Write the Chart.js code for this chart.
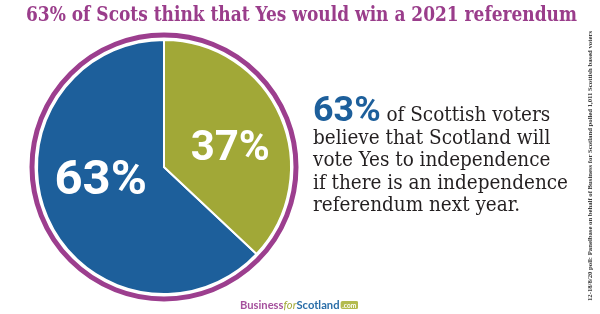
<!DOCTYPE html>
<html lang="en">
  <head>
    <meta charset="UTF-8" />
    <title>63% of Scots think that Yes would win a 2021 referendum</title>
    <script src="https://cdn.jsdelivr.net/npm/chart.js"></script>
    <style>
      body {
        margin: 0;
        width: 600px;
        height: 314px;
        background: #fff;
        position: relative;
        overflow: hidden;
      }
      #pie {
        position: absolute;
        left: 0;
        top: 0;
      }
      .fit {
        position: absolute;
        white-space: nowrap;
        transform-origin: left top;
      }
      #title {
        left: 26px;
        top: 1px;
        font-family: "DejaVu Serif Condensed", "DejaVu Serif", serif;
        font-stretch: condensed;
        font-weight: bold;
        font-size: 21px;
        line-height: 26px;
        color: #9a3d8b;
      }
      #blurb {
        left: 313px;
        top: 103px;
        font-family: "DejaVu Serif Condensed", "DejaVu Serif", serif;
        font-stretch: condensed;
        font-size: 20px;
        line-height: 22.5px;
        color: #231f20;
      }
      #blurb .big {
        font-family: Roboto, sans-serif;
        font-stretch: normal;
        font-weight: bold;
        font-size: 35px;
        line-height: 0;
        color: #1d5f9b;
      }
      #source {
        left: 587px;
        top: 301px;
        font-family: "Liberation Serif", serif;
        font-weight: bold;
        font-size: 7px;
        line-height: 7px;
        color: #333;
      }
      #logo {
        left: 240px;
        top: 299px;
        font-family: Lato, sans-serif;
        font-weight: bold;
        font-size: 12px;
        line-height: 12px;
      }
      #logo .b { color: #a5519d; }
      #logo .f { color: #a3aa3a; font-style: italic; font-weight: normal; }
      #logo .s { color: #2a6ea8; }
      #logo .c {
        display: inline-block;
        margin-left: 1px;
        padding: 0 2px;
        background: #b3bb4f;
        color: #fff;
        font-size: 7px;
        line-height: 8px;
        border-radius: 2px;
        vertical-align: 1px;
      }
    </style>
  </head>

  <body>
    <canvas id="pie" width="600" height="314"></canvas>

    <div id="title" class="fit" data-w="551">
      63% of Scots think that Yes would win a 2021 referendum
    </div>

    <div id="blurb" class="fit" data-w="255">
      <div><span class="big">63%</span> of Scottish voters</div>
      <div>believe that Scotland will</div>
      <div>vote Yes to independence</div>
      <div>if there is an independence</div>
      <div>referendum next year.</div>
    </div>

    <div id="source" class="fit" data-w="270" data-rot="rotate(-90deg)">
      12-18/8/20 poll: Panelbase on behalf of Business for Scotland polled
      1,011 Scottish based voters
    </div>

    <div id="logo" class="fit" data-w="118">
      <span class="b">Business</span><span class="f">for</span
      ><span class="s">Scotland</span><span class="c">.com</span>
    </div>

    <script>
      // poll answers, Panelbase 12-18 Aug 2020
      const answers = ["Yes would win", "Yes would not win"];
      const shares = [63, 37];
      const sliceColors = ["#1d5f9b", "#a1a837"];

      const total = shares.reduce((a, b) => a + b, 0);
      // blue slice ends at 12 o'clock, so start after the green share
      const startAngle = (360 * shares[1]) / total;

      // purple border round the pie
      const ringPlugin = {
        id: "ring",
        afterDatasetsDraw(chart, args, opts) {
          const arc = chart.getDatasetMeta(0).data[0];
          const ctx = chart.ctx;
          ctx.save();
          ctx.beginPath();
          ctx.arc(
            arc.x,
            arc.y,
            arc.outerRadius + opts.gap + opts.width / 2,
            0,
            Math.PI * 2
          );
          ctx.lineWidth = opts.width;
          ctx.strokeStyle = opts.color;
          ctx.stroke();
          ctx.restore();
        },
      };

      // big white percentages inside the slices
      const labelPlugin = {
        id: "sliceLabels",
        afterDatasetsDraw(chart, args, opts) {
          const ctx = chart.ctx;
          const meta = chart.getDatasetMeta(0);
          meta.data.forEach((arc, i) => {
            const mid = (arc.startAngle + arc.endAngle) / 2;
            const r = arc.outerRadius * opts.radius;
            const size = opts.sizes[i];
            const x = arc.x + Math.cos(mid) * r + opts.offsets[i][0];
            const y = arc.y + Math.sin(mid) * r + opts.offsets[i][1];
            const pct = Math.round((shares[i] / total) * 100) + "%";
            ctx.save();
            ctx.font = `bold ${size}px Roboto, sans-serif`;
            ctx.fillStyle = "#fff";
            ctx.textAlign = "center";
            ctx.textBaseline = "alphabetic";
            ctx.fillText(pct, x, y + size * 0.355);
            ctx.restore();
          });
        },
      };

      new Chart(document.getElementById("pie"), {
        type: "pie",
        data: {
          labels: answers,
          datasets: [
            {
              data: shares,
              backgroundColor: sliceColors,
              borderColor: "#fff",
              borderWidth: 2,
            },
          ],
        },
        options: {
          responsive: false,
          animation: false,
          rotation: startAngle,
          layout: { padding: { left: 36, top: 39, right: 308, bottom: 19 } },
          plugins: {
            legend: { display: false },
            tooltip: { enabled: false },
            ring: { gap: 2.5, width: 5, color: "#9c3e8e" },
            sliceLabels: {
              radius: 0.5,
              sizes: [49, 42],
              offsets: [
                [-5, -16],
                [8, 3],
              ],
            },
          },
        },
        plugins: [ringPlugin, labelPlugin],
      });

      // squeeze each text block to the width it has in the picture
      document.querySelectorAll(".fit").forEach((el) => {
        const w = el.getBoundingClientRect().width;
        const target = parseFloat(el.dataset.w);
        el.style.transform =
          (el.dataset.rot || "") + ` scaleX(${target / w})`;
      });
    </script>
  </body>
</html>
